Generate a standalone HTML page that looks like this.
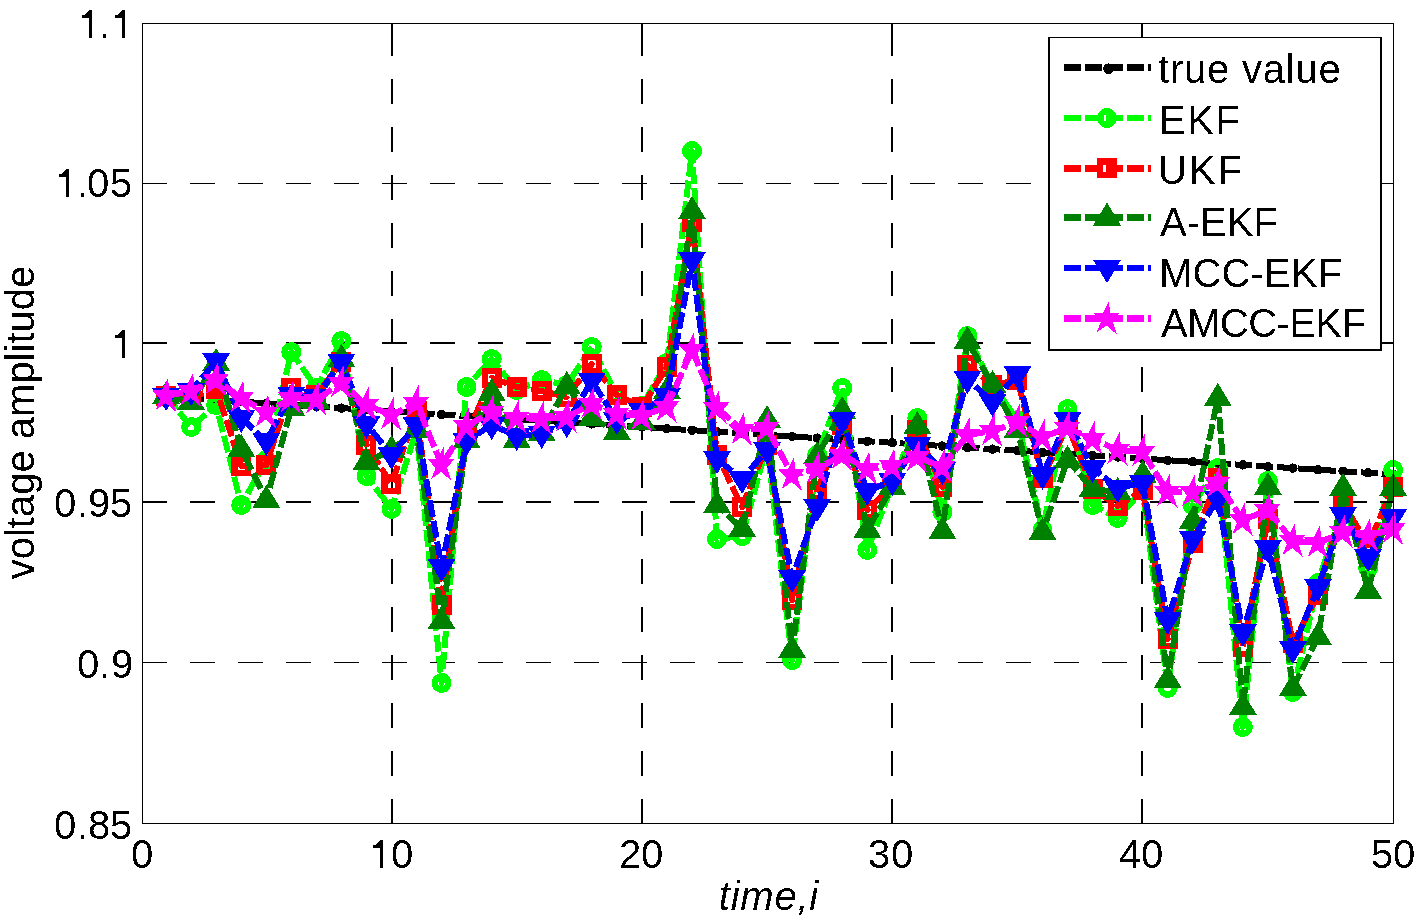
<!DOCTYPE html>
<html><head><meta charset="utf-8"><style>
html,body{margin:0;padding:0;background:#fff;}
svg{display:block;}
text{font-family:"Liberation Sans",sans-serif;fill:#000;}
</style></head><body>
<svg width="1421" height="924" viewBox="0 0 1421 924" shape-rendering="crispEdges">
<rect width="1421" height="924" fill="#fff"/>
<defs><filter id="crisp" x="0" y="0" width="1421" height="924" filterUnits="userSpaceOnUse"><feComponentTransfer><feFuncA type="discrete" tableValues="0 1"/></feComponentTransfer></filter></defs>
<line x1="392" y1="824" x2="392" y2="23" stroke="#000" stroke-width="2" stroke-dasharray="25 23"/>
<line x1="642" y1="824" x2="642" y2="23" stroke="#000" stroke-width="2" stroke-dasharray="25 23"/>
<line x1="892" y1="824" x2="892" y2="23" stroke="#000" stroke-width="2" stroke-dasharray="25 23"/>
<line x1="1142" y1="824" x2="1142" y2="23" stroke="#000" stroke-width="2" stroke-dasharray="25 23"/>
<line x1="142" y1="183.5" x2="1394" y2="183.5" stroke="#000" stroke-width="1" stroke-dasharray="25 23"/>
<line x1="142" y1="343" x2="1394" y2="343" stroke="#000" stroke-width="2" stroke-dasharray="25 23"/>
<line x1="142" y1="502" x2="1394" y2="502" stroke="#000" stroke-width="2" stroke-dasharray="25 23"/>
<line x1="142" y1="662.5" x2="1394" y2="662.5" stroke="#000" stroke-width="1" stroke-dasharray="25 23"/>
<polyline points="166.1,397.0 191.2,398.6 216.2,400.2 241.3,401.7 266.3,403.3 291.3,404.9 316.4,406.5 341.4,408.1 366.5,409.6 391.5,411.2 416.5,412.8 441.6,414.4 466.6,416.0 491.7,417.5 516.7,419.1 541.7,420.7 566.8,422.3 591.8,423.9 616.9,425.4 641.9,427.0 666.9,428.6 692.0,430.2 717.0,431.8 742.1,433.3 767.1,434.9 792.1,436.5 817.2,438.1 842.2,439.7 867.3,441.2 892.3,442.8 917.3,444.4 942.4,446.0 967.4,447.6 992.5,449.1 1017.5,450.7 1042.5,452.3 1067.6,453.9 1092.6,455.5 1117.7,457.0 1142.7,458.6 1167.7,460.2 1192.8,461.8 1217.8,463.4 1242.9,464.9 1267.9,466.5 1292.9,468.1 1318.0,469.7 1343.0,471.3 1368.1,472.8 1393.1,474.4" fill="none" stroke="#000000" stroke-width="6" stroke-dasharray="17 4" stroke-linejoin="round"/>
<circle cx="166.1" cy="397.0" r="4.7" fill="#000000"/>
<circle cx="191.2" cy="398.6" r="4.7" fill="#000000"/>
<circle cx="216.2" cy="400.2" r="4.7" fill="#000000"/>
<circle cx="241.3" cy="401.7" r="4.7" fill="#000000"/>
<circle cx="266.3" cy="403.3" r="4.7" fill="#000000"/>
<circle cx="291.3" cy="404.9" r="4.7" fill="#000000"/>
<circle cx="316.4" cy="406.5" r="4.7" fill="#000000"/>
<circle cx="341.4" cy="408.1" r="4.7" fill="#000000"/>
<circle cx="366.5" cy="409.6" r="4.7" fill="#000000"/>
<circle cx="391.5" cy="411.2" r="4.7" fill="#000000"/>
<circle cx="416.5" cy="412.8" r="4.7" fill="#000000"/>
<circle cx="441.6" cy="414.4" r="4.7" fill="#000000"/>
<circle cx="466.6" cy="416.0" r="4.7" fill="#000000"/>
<circle cx="491.7" cy="417.5" r="4.7" fill="#000000"/>
<circle cx="516.7" cy="419.1" r="4.7" fill="#000000"/>
<circle cx="541.7" cy="420.7" r="4.7" fill="#000000"/>
<circle cx="566.8" cy="422.3" r="4.7" fill="#000000"/>
<circle cx="591.8" cy="423.9" r="4.7" fill="#000000"/>
<circle cx="616.9" cy="425.4" r="4.7" fill="#000000"/>
<circle cx="641.9" cy="427.0" r="4.7" fill="#000000"/>
<circle cx="666.9" cy="428.6" r="4.7" fill="#000000"/>
<circle cx="692.0" cy="430.2" r="4.7" fill="#000000"/>
<circle cx="717.0" cy="431.8" r="4.7" fill="#000000"/>
<circle cx="742.1" cy="433.3" r="4.7" fill="#000000"/>
<circle cx="767.1" cy="434.9" r="4.7" fill="#000000"/>
<circle cx="792.1" cy="436.5" r="4.7" fill="#000000"/>
<circle cx="817.2" cy="438.1" r="4.7" fill="#000000"/>
<circle cx="842.2" cy="439.7" r="4.7" fill="#000000"/>
<circle cx="867.3" cy="441.2" r="4.7" fill="#000000"/>
<circle cx="892.3" cy="442.8" r="4.7" fill="#000000"/>
<circle cx="917.3" cy="444.4" r="4.7" fill="#000000"/>
<circle cx="942.4" cy="446.0" r="4.7" fill="#000000"/>
<circle cx="967.4" cy="447.6" r="4.7" fill="#000000"/>
<circle cx="992.5" cy="449.1" r="4.7" fill="#000000"/>
<circle cx="1017.5" cy="450.7" r="4.7" fill="#000000"/>
<circle cx="1042.5" cy="452.3" r="4.7" fill="#000000"/>
<circle cx="1067.6" cy="453.9" r="4.7" fill="#000000"/>
<circle cx="1092.6" cy="455.5" r="4.7" fill="#000000"/>
<circle cx="1117.7" cy="457.0" r="4.7" fill="#000000"/>
<circle cx="1142.7" cy="458.6" r="4.7" fill="#000000"/>
<circle cx="1167.7" cy="460.2" r="4.7" fill="#000000"/>
<circle cx="1192.8" cy="461.8" r="4.7" fill="#000000"/>
<circle cx="1217.8" cy="463.4" r="4.7" fill="#000000"/>
<circle cx="1242.9" cy="464.9" r="4.7" fill="#000000"/>
<circle cx="1267.9" cy="466.5" r="4.7" fill="#000000"/>
<circle cx="1292.9" cy="468.1" r="4.7" fill="#000000"/>
<circle cx="1318.0" cy="469.7" r="4.7" fill="#000000"/>
<circle cx="1343.0" cy="471.3" r="4.7" fill="#000000"/>
<circle cx="1368.1" cy="472.8" r="4.7" fill="#000000"/>
<circle cx="1393.1" cy="474.4" r="4.7" fill="#000000"/>
<polyline points="166.1,396.0 191.2,427.0 216.2,405.0 241.3,505.0 266.3,460.0 291.3,352.0 316.4,388.0 341.4,341.0 366.5,476.0 391.5,509.0 416.5,430.0 441.6,683.0 466.6,387.0 491.7,359.0 516.7,390.0 541.7,380.0 566.8,385.0 591.8,347.0 616.9,395.0 641.9,406.0 666.9,363.0 692.0,151.0 717.0,539.0 742.1,536.0 767.1,445.0 792.1,660.0 817.2,455.0 842.2,388.0 867.3,550.0 892.3,485.0 917.3,418.0 942.4,512.0 967.4,336.0 992.5,385.0 1017.5,420.0 1042.5,530.0 1067.6,409.0 1092.6,505.0 1117.7,518.0 1142.7,490.0 1167.7,688.0 1192.8,505.0 1217.8,468.0 1242.9,727.0 1267.9,481.0 1292.9,692.0 1318.0,583.0 1343.0,505.0 1368.1,568.0 1393.1,470.0" fill="none" stroke="#00ff00" stroke-width="6" stroke-dasharray="17 4" stroke-linejoin="round"/>
<circle cx="166.1" cy="396.0" r="6.75" fill="none" stroke="#00ff00" stroke-width="6.5"/>
<circle cx="191.2" cy="427.0" r="6.75" fill="none" stroke="#00ff00" stroke-width="6.5"/>
<circle cx="216.2" cy="405.0" r="6.75" fill="none" stroke="#00ff00" stroke-width="6.5"/>
<circle cx="241.3" cy="505.0" r="6.75" fill="none" stroke="#00ff00" stroke-width="6.5"/>
<circle cx="266.3" cy="460.0" r="6.75" fill="none" stroke="#00ff00" stroke-width="6.5"/>
<circle cx="291.3" cy="352.0" r="6.75" fill="none" stroke="#00ff00" stroke-width="6.5"/>
<circle cx="316.4" cy="388.0" r="6.75" fill="none" stroke="#00ff00" stroke-width="6.5"/>
<circle cx="341.4" cy="341.0" r="6.75" fill="none" stroke="#00ff00" stroke-width="6.5"/>
<circle cx="366.5" cy="476.0" r="6.75" fill="none" stroke="#00ff00" stroke-width="6.5"/>
<circle cx="391.5" cy="509.0" r="6.75" fill="none" stroke="#00ff00" stroke-width="6.5"/>
<circle cx="416.5" cy="430.0" r="6.75" fill="none" stroke="#00ff00" stroke-width="6.5"/>
<circle cx="441.6" cy="683.0" r="6.75" fill="none" stroke="#00ff00" stroke-width="6.5"/>
<circle cx="466.6" cy="387.0" r="6.75" fill="none" stroke="#00ff00" stroke-width="6.5"/>
<circle cx="491.7" cy="359.0" r="6.75" fill="none" stroke="#00ff00" stroke-width="6.5"/>
<circle cx="516.7" cy="390.0" r="6.75" fill="none" stroke="#00ff00" stroke-width="6.5"/>
<circle cx="541.7" cy="380.0" r="6.75" fill="none" stroke="#00ff00" stroke-width="6.5"/>
<circle cx="566.8" cy="385.0" r="6.75" fill="none" stroke="#00ff00" stroke-width="6.5"/>
<circle cx="591.8" cy="347.0" r="6.75" fill="none" stroke="#00ff00" stroke-width="6.5"/>
<circle cx="616.9" cy="395.0" r="6.75" fill="none" stroke="#00ff00" stroke-width="6.5"/>
<circle cx="641.9" cy="406.0" r="6.75" fill="none" stroke="#00ff00" stroke-width="6.5"/>
<circle cx="666.9" cy="363.0" r="6.75" fill="none" stroke="#00ff00" stroke-width="6.5"/>
<circle cx="692.0" cy="151.0" r="6.75" fill="none" stroke="#00ff00" stroke-width="6.5"/>
<circle cx="717.0" cy="539.0" r="6.75" fill="none" stroke="#00ff00" stroke-width="6.5"/>
<circle cx="742.1" cy="536.0" r="6.75" fill="none" stroke="#00ff00" stroke-width="6.5"/>
<circle cx="767.1" cy="445.0" r="6.75" fill="none" stroke="#00ff00" stroke-width="6.5"/>
<circle cx="792.1" cy="660.0" r="6.75" fill="none" stroke="#00ff00" stroke-width="6.5"/>
<circle cx="817.2" cy="455.0" r="6.75" fill="none" stroke="#00ff00" stroke-width="6.5"/>
<circle cx="842.2" cy="388.0" r="6.75" fill="none" stroke="#00ff00" stroke-width="6.5"/>
<circle cx="867.3" cy="550.0" r="6.75" fill="none" stroke="#00ff00" stroke-width="6.5"/>
<circle cx="892.3" cy="485.0" r="6.75" fill="none" stroke="#00ff00" stroke-width="6.5"/>
<circle cx="917.3" cy="418.0" r="6.75" fill="none" stroke="#00ff00" stroke-width="6.5"/>
<circle cx="942.4" cy="512.0" r="6.75" fill="none" stroke="#00ff00" stroke-width="6.5"/>
<circle cx="967.4" cy="336.0" r="6.75" fill="none" stroke="#00ff00" stroke-width="6.5"/>
<circle cx="992.5" cy="385.0" r="6.75" fill="none" stroke="#00ff00" stroke-width="6.5"/>
<circle cx="1017.5" cy="420.0" r="6.75" fill="none" stroke="#00ff00" stroke-width="6.5"/>
<circle cx="1042.5" cy="530.0" r="6.75" fill="none" stroke="#00ff00" stroke-width="6.5"/>
<circle cx="1067.6" cy="409.0" r="6.75" fill="none" stroke="#00ff00" stroke-width="6.5"/>
<circle cx="1092.6" cy="505.0" r="6.75" fill="none" stroke="#00ff00" stroke-width="6.5"/>
<circle cx="1117.7" cy="518.0" r="6.75" fill="none" stroke="#00ff00" stroke-width="6.5"/>
<circle cx="1142.7" cy="490.0" r="6.75" fill="none" stroke="#00ff00" stroke-width="6.5"/>
<circle cx="1167.7" cy="688.0" r="6.75" fill="none" stroke="#00ff00" stroke-width="6.5"/>
<circle cx="1192.8" cy="505.0" r="6.75" fill="none" stroke="#00ff00" stroke-width="6.5"/>
<circle cx="1217.8" cy="468.0" r="6.75" fill="none" stroke="#00ff00" stroke-width="6.5"/>
<circle cx="1242.9" cy="727.0" r="6.75" fill="none" stroke="#00ff00" stroke-width="6.5"/>
<circle cx="1267.9" cy="481.0" r="6.75" fill="none" stroke="#00ff00" stroke-width="6.5"/>
<circle cx="1292.9" cy="692.0" r="6.75" fill="none" stroke="#00ff00" stroke-width="6.5"/>
<circle cx="1318.0" cy="583.0" r="6.75" fill="none" stroke="#00ff00" stroke-width="6.5"/>
<circle cx="1343.0" cy="505.0" r="6.75" fill="none" stroke="#00ff00" stroke-width="6.5"/>
<circle cx="1368.1" cy="568.0" r="6.75" fill="none" stroke="#00ff00" stroke-width="6.5"/>
<circle cx="1393.1" cy="470.0" r="6.75" fill="none" stroke="#00ff00" stroke-width="6.5"/>
<polyline points="166.1,396.0 191.2,397.0 216.2,389.0 241.3,466.0 266.3,465.0 291.3,388.0 316.4,395.0 341.4,362.0 366.5,445.0 391.5,484.0 416.5,411.0 441.6,605.0 466.6,435.0 491.7,378.0 516.7,387.0 541.7,391.0 566.8,397.0 591.8,364.0 616.9,395.0 641.9,407.0 666.9,367.0 692.0,222.0 717.0,455.0 742.1,507.0 767.1,445.0 792.1,600.0 817.2,491.0 842.2,425.0 867.3,510.0 892.3,485.0 917.3,430.0 942.4,487.0 967.4,365.0 992.5,385.0 1017.5,380.0 1042.5,478.0 1067.6,425.0 1092.6,489.0 1117.7,506.0 1142.7,490.0 1167.7,639.0 1192.8,543.0 1217.8,478.0 1242.9,647.0 1267.9,519.0 1292.9,643.0 1318.0,595.0 1343.0,503.0 1368.1,545.0 1393.1,487.0" fill="none" stroke="#ff0000" stroke-width="6" stroke-dasharray="17 4" stroke-linejoin="round"/>
<rect x="159.26" y="389.12" width="13.75" height="13.75" fill="none" stroke="#ff0000" stroke-width="6.25"/>
<rect x="184.31" y="390.12" width="13.75" height="13.75" fill="none" stroke="#ff0000" stroke-width="6.25"/>
<rect x="209.34" y="382.12" width="13.75" height="13.75" fill="none" stroke="#ff0000" stroke-width="6.25"/>
<rect x="234.38" y="459.12" width="13.75" height="13.75" fill="none" stroke="#ff0000" stroke-width="6.25"/>
<rect x="259.42" y="458.12" width="13.75" height="13.75" fill="none" stroke="#ff0000" stroke-width="6.25"/>
<rect x="284.47" y="381.12" width="13.75" height="13.75" fill="none" stroke="#ff0000" stroke-width="6.25"/>
<rect x="309.50" y="388.12" width="13.75" height="13.75" fill="none" stroke="#ff0000" stroke-width="6.25"/>
<rect x="334.54" y="355.12" width="13.75" height="13.75" fill="none" stroke="#ff0000" stroke-width="6.25"/>
<rect x="359.58" y="438.12" width="13.75" height="13.75" fill="none" stroke="#ff0000" stroke-width="6.25"/>
<rect x="384.62" y="477.12" width="13.75" height="13.75" fill="none" stroke="#ff0000" stroke-width="6.25"/>
<rect x="409.66" y="404.12" width="13.75" height="13.75" fill="none" stroke="#ff0000" stroke-width="6.25"/>
<rect x="434.71" y="598.12" width="13.75" height="13.75" fill="none" stroke="#ff0000" stroke-width="6.25"/>
<rect x="459.75" y="428.12" width="13.75" height="13.75" fill="none" stroke="#ff0000" stroke-width="6.25"/>
<rect x="484.78" y="371.12" width="13.75" height="13.75" fill="none" stroke="#ff0000" stroke-width="6.25"/>
<rect x="509.82" y="380.12" width="13.75" height="13.75" fill="none" stroke="#ff0000" stroke-width="6.25"/>
<rect x="534.87" y="384.12" width="13.75" height="13.75" fill="none" stroke="#ff0000" stroke-width="6.25"/>
<rect x="559.90" y="390.12" width="13.75" height="13.75" fill="none" stroke="#ff0000" stroke-width="6.25"/>
<rect x="584.94" y="357.12" width="13.75" height="13.75" fill="none" stroke="#ff0000" stroke-width="6.25"/>
<rect x="609.99" y="388.12" width="13.75" height="13.75" fill="none" stroke="#ff0000" stroke-width="6.25"/>
<rect x="635.02" y="400.12" width="13.75" height="13.75" fill="none" stroke="#ff0000" stroke-width="6.25"/>
<rect x="660.07" y="360.12" width="13.75" height="13.75" fill="none" stroke="#ff0000" stroke-width="6.25"/>
<rect x="685.11" y="215.12" width="13.75" height="13.75" fill="none" stroke="#ff0000" stroke-width="6.25"/>
<rect x="710.14" y="448.12" width="13.75" height="13.75" fill="none" stroke="#ff0000" stroke-width="6.25"/>
<rect x="735.19" y="500.12" width="13.75" height="13.75" fill="none" stroke="#ff0000" stroke-width="6.25"/>
<rect x="760.23" y="438.12" width="13.75" height="13.75" fill="none" stroke="#ff0000" stroke-width="6.25"/>
<rect x="785.26" y="593.12" width="13.75" height="13.75" fill="none" stroke="#ff0000" stroke-width="6.25"/>
<rect x="810.30" y="484.12" width="13.75" height="13.75" fill="none" stroke="#ff0000" stroke-width="6.25"/>
<rect x="835.35" y="418.12" width="13.75" height="13.75" fill="none" stroke="#ff0000" stroke-width="6.25"/>
<rect x="860.38" y="503.12" width="13.75" height="13.75" fill="none" stroke="#ff0000" stroke-width="6.25"/>
<rect x="885.42" y="478.12" width="13.75" height="13.75" fill="none" stroke="#ff0000" stroke-width="6.25"/>
<rect x="910.47" y="423.12" width="13.75" height="13.75" fill="none" stroke="#ff0000" stroke-width="6.25"/>
<rect x="935.50" y="480.12" width="13.75" height="13.75" fill="none" stroke="#ff0000" stroke-width="6.25"/>
<rect x="960.54" y="358.12" width="13.75" height="13.75" fill="none" stroke="#ff0000" stroke-width="6.25"/>
<rect x="985.59" y="378.12" width="13.75" height="13.75" fill="none" stroke="#ff0000" stroke-width="6.25"/>
<rect x="1010.62" y="373.12" width="13.75" height="13.75" fill="none" stroke="#ff0000" stroke-width="6.25"/>
<rect x="1035.66" y="471.12" width="13.75" height="13.75" fill="none" stroke="#ff0000" stroke-width="6.25"/>
<rect x="1060.70" y="418.12" width="13.75" height="13.75" fill="none" stroke="#ff0000" stroke-width="6.25"/>
<rect x="1085.74" y="482.12" width="13.75" height="13.75" fill="none" stroke="#ff0000" stroke-width="6.25"/>
<rect x="1110.78" y="499.12" width="13.75" height="13.75" fill="none" stroke="#ff0000" stroke-width="6.25"/>
<rect x="1135.82" y="483.12" width="13.75" height="13.75" fill="none" stroke="#ff0000" stroke-width="6.25"/>
<rect x="1160.86" y="632.12" width="13.75" height="13.75" fill="none" stroke="#ff0000" stroke-width="6.25"/>
<rect x="1185.90" y="536.12" width="13.75" height="13.75" fill="none" stroke="#ff0000" stroke-width="6.25"/>
<rect x="1210.94" y="471.12" width="13.75" height="13.75" fill="none" stroke="#ff0000" stroke-width="6.25"/>
<rect x="1235.98" y="640.12" width="13.75" height="13.75" fill="none" stroke="#ff0000" stroke-width="6.25"/>
<rect x="1261.02" y="512.12" width="13.75" height="13.75" fill="none" stroke="#ff0000" stroke-width="6.25"/>
<rect x="1286.06" y="636.12" width="13.75" height="13.75" fill="none" stroke="#ff0000" stroke-width="6.25"/>
<rect x="1311.10" y="588.12" width="13.75" height="13.75" fill="none" stroke="#ff0000" stroke-width="6.25"/>
<rect x="1336.14" y="496.12" width="13.75" height="13.75" fill="none" stroke="#ff0000" stroke-width="6.25"/>
<rect x="1361.18" y="538.12" width="13.75" height="13.75" fill="none" stroke="#ff0000" stroke-width="6.25"/>
<rect x="1386.22" y="480.12" width="13.75" height="13.75" fill="none" stroke="#ff0000" stroke-width="6.25"/>
<polyline points="166.1,396.0 191.2,402.0 216.2,363.0 241.3,449.0 266.3,500.0 291.3,408.0 316.4,401.0 341.4,359.0 366.5,462.0 391.5,450.0 416.5,430.0 441.6,621.0 466.6,440.0 491.7,393.0 516.7,440.0 541.7,433.0 566.8,386.0 591.8,418.0 616.9,432.0 641.9,422.0 666.9,391.0 692.0,211.0 717.0,505.0 742.1,529.0 767.1,420.0 792.1,650.0 817.2,456.0 842.2,411.0 867.3,530.0 892.3,487.0 917.3,426.0 942.4,531.0 967.4,341.0 992.5,385.0 1017.5,430.0 1042.5,532.0 1067.6,460.0 1092.6,489.0 1117.7,492.0 1142.7,475.0 1167.7,680.0 1192.8,521.0 1217.8,398.0 1242.9,707.0 1267.9,487.0 1292.9,688.0 1318.0,637.0 1343.0,488.0 1368.1,591.0 1393.1,488.0" fill="none" stroke="#008000" stroke-width="6" stroke-dasharray="17 4" stroke-linejoin="round"/>
<path d="M166.1,381.0L180.1,404.0L152.1,404.0Z" fill="#008000"/>
<path d="M191.2,387.0L205.2,410.0L177.2,410.0Z" fill="#008000"/>
<path d="M216.2,348.0L230.2,371.0L202.2,371.0Z" fill="#008000"/>
<path d="M241.3,434.0L255.3,457.0L227.3,457.0Z" fill="#008000"/>
<path d="M266.3,485.0L280.3,508.0L252.3,508.0Z" fill="#008000"/>
<path d="M291.3,393.0L305.3,416.0L277.3,416.0Z" fill="#008000"/>
<path d="M316.4,386.0L330.4,409.0L302.4,409.0Z" fill="#008000"/>
<path d="M341.4,344.0L355.4,367.0L327.4,367.0Z" fill="#008000"/>
<path d="M366.5,447.0L380.5,470.0L352.5,470.0Z" fill="#008000"/>
<path d="M391.5,435.0L405.5,458.0L377.5,458.0Z" fill="#008000"/>
<path d="M416.5,415.0L430.5,438.0L402.5,438.0Z" fill="#008000"/>
<path d="M441.6,606.0L455.6,629.0L427.6,629.0Z" fill="#008000"/>
<path d="M466.6,425.0L480.6,448.0L452.6,448.0Z" fill="#008000"/>
<path d="M491.7,378.0L505.7,401.0L477.7,401.0Z" fill="#008000"/>
<path d="M516.7,425.0L530.7,448.0L502.7,448.0Z" fill="#008000"/>
<path d="M541.7,418.0L555.7,441.0L527.7,441.0Z" fill="#008000"/>
<path d="M566.8,371.0L580.8,394.0L552.8,394.0Z" fill="#008000"/>
<path d="M591.8,403.0L605.8,426.0L577.8,426.0Z" fill="#008000"/>
<path d="M616.9,417.0L630.9,440.0L602.9,440.0Z" fill="#008000"/>
<path d="M641.9,407.0L655.9,430.0L627.9,430.0Z" fill="#008000"/>
<path d="M666.9,376.0L680.9,399.0L652.9,399.0Z" fill="#008000"/>
<path d="M692.0,196.0L706.0,219.0L678.0,219.0Z" fill="#008000"/>
<path d="M717.0,490.0L731.0,513.0L703.0,513.0Z" fill="#008000"/>
<path d="M742.1,514.0L756.1,537.0L728.1,537.0Z" fill="#008000"/>
<path d="M767.1,405.0L781.1,428.0L753.1,428.0Z" fill="#008000"/>
<path d="M792.1,635.0L806.1,658.0L778.1,658.0Z" fill="#008000"/>
<path d="M817.2,441.0L831.2,464.0L803.2,464.0Z" fill="#008000"/>
<path d="M842.2,396.0L856.2,419.0L828.2,419.0Z" fill="#008000"/>
<path d="M867.3,515.0L881.3,538.0L853.3,538.0Z" fill="#008000"/>
<path d="M892.3,472.0L906.3,495.0L878.3,495.0Z" fill="#008000"/>
<path d="M917.3,411.0L931.3,434.0L903.3,434.0Z" fill="#008000"/>
<path d="M942.4,516.0L956.4,539.0L928.4,539.0Z" fill="#008000"/>
<path d="M967.4,326.0L981.4,349.0L953.4,349.0Z" fill="#008000"/>
<path d="M992.5,370.0L1006.5,393.0L978.5,393.0Z" fill="#008000"/>
<path d="M1017.5,415.0L1031.5,438.0L1003.5,438.0Z" fill="#008000"/>
<path d="M1042.5,517.0L1056.5,540.0L1028.5,540.0Z" fill="#008000"/>
<path d="M1067.6,445.0L1081.6,468.0L1053.6,468.0Z" fill="#008000"/>
<path d="M1092.6,474.0L1106.6,497.0L1078.6,497.0Z" fill="#008000"/>
<path d="M1117.7,477.0L1131.7,500.0L1103.7,500.0Z" fill="#008000"/>
<path d="M1142.7,460.0L1156.7,483.0L1128.7,483.0Z" fill="#008000"/>
<path d="M1167.7,665.0L1181.7,688.0L1153.7,688.0Z" fill="#008000"/>
<path d="M1192.8,506.0L1206.8,529.0L1178.8,529.0Z" fill="#008000"/>
<path d="M1217.8,383.0L1231.8,406.0L1203.8,406.0Z" fill="#008000"/>
<path d="M1242.9,692.0L1256.9,715.0L1228.9,715.0Z" fill="#008000"/>
<path d="M1267.9,472.0L1281.9,495.0L1253.9,495.0Z" fill="#008000"/>
<path d="M1292.9,673.0L1306.9,696.0L1278.9,696.0Z" fill="#008000"/>
<path d="M1318.0,622.0L1332.0,645.0L1304.0,645.0Z" fill="#008000"/>
<path d="M1343.0,473.0L1357.0,496.0L1329.0,496.0Z" fill="#008000"/>
<path d="M1368.1,576.0L1382.1,599.0L1354.1,599.0Z" fill="#008000"/>
<path d="M1393.1,473.0L1407.1,496.0L1379.1,496.0Z" fill="#008000"/>
<polyline points="166.1,396.0 191.2,391.0 216.2,361.0 241.3,418.0 266.3,441.0 291.3,394.5 316.4,397.0 341.4,362.0 366.5,424.0 391.5,455.0 416.5,425.0 441.6,567.0 466.6,441.0 491.7,425.0 516.7,436.0 541.7,434.0 566.8,423.0 591.8,381.0 616.9,420.0 641.9,411.0 666.9,396.0 692.0,260.0 717.0,459.0 742.1,479.0 767.1,450.0 792.1,578.0 817.2,507.0 842.2,420.0 867.3,491.0 892.3,481.0 917.3,445.0 942.4,470.0 967.4,379.0 992.5,402.0 1017.5,374.0 1042.5,475.0 1067.6,420.0 1092.6,468.0 1117.7,488.0 1142.7,483.0 1167.7,620.0 1192.8,539.0 1217.8,499.0 1242.9,632.0 1267.9,548.0 1292.9,649.0 1318.0,587.0 1343.0,515.0 1368.1,557.0 1393.1,517.0" fill="none" stroke="#0000ff" stroke-width="6" stroke-dasharray="17 4" stroke-linejoin="round"/>
<path d="M166.1,411.0L180.1,388.0L152.1,388.0Z" fill="#0000ff"/>
<path d="M191.2,406.0L205.2,383.0L177.2,383.0Z" fill="#0000ff"/>
<path d="M216.2,376.0L230.2,353.0L202.2,353.0Z" fill="#0000ff"/>
<path d="M241.3,433.0L255.3,410.0L227.3,410.0Z" fill="#0000ff"/>
<path d="M266.3,456.0L280.3,433.0L252.3,433.0Z" fill="#0000ff"/>
<path d="M291.3,409.5L305.3,386.5L277.3,386.5Z" fill="#0000ff"/>
<path d="M316.4,412.0L330.4,389.0L302.4,389.0Z" fill="#0000ff"/>
<path d="M341.4,377.0L355.4,354.0L327.4,354.0Z" fill="#0000ff"/>
<path d="M366.5,439.0L380.5,416.0L352.5,416.0Z" fill="#0000ff"/>
<path d="M391.5,470.0L405.5,447.0L377.5,447.0Z" fill="#0000ff"/>
<path d="M416.5,440.0L430.5,417.0L402.5,417.0Z" fill="#0000ff"/>
<path d="M441.6,582.0L455.6,559.0L427.6,559.0Z" fill="#0000ff"/>
<path d="M466.6,456.0L480.6,433.0L452.6,433.0Z" fill="#0000ff"/>
<path d="M491.7,440.0L505.7,417.0L477.7,417.0Z" fill="#0000ff"/>
<path d="M516.7,451.0L530.7,428.0L502.7,428.0Z" fill="#0000ff"/>
<path d="M541.7,449.0L555.7,426.0L527.7,426.0Z" fill="#0000ff"/>
<path d="M566.8,438.0L580.8,415.0L552.8,415.0Z" fill="#0000ff"/>
<path d="M591.8,396.0L605.8,373.0L577.8,373.0Z" fill="#0000ff"/>
<path d="M616.9,435.0L630.9,412.0L602.9,412.0Z" fill="#0000ff"/>
<path d="M641.9,426.0L655.9,403.0L627.9,403.0Z" fill="#0000ff"/>
<path d="M666.9,411.0L680.9,388.0L652.9,388.0Z" fill="#0000ff"/>
<path d="M692.0,275.0L706.0,252.0L678.0,252.0Z" fill="#0000ff"/>
<path d="M717.0,474.0L731.0,451.0L703.0,451.0Z" fill="#0000ff"/>
<path d="M742.1,494.0L756.1,471.0L728.1,471.0Z" fill="#0000ff"/>
<path d="M767.1,465.0L781.1,442.0L753.1,442.0Z" fill="#0000ff"/>
<path d="M792.1,593.0L806.1,570.0L778.1,570.0Z" fill="#0000ff"/>
<path d="M817.2,522.0L831.2,499.0L803.2,499.0Z" fill="#0000ff"/>
<path d="M842.2,435.0L856.2,412.0L828.2,412.0Z" fill="#0000ff"/>
<path d="M867.3,506.0L881.3,483.0L853.3,483.0Z" fill="#0000ff"/>
<path d="M892.3,496.0L906.3,473.0L878.3,473.0Z" fill="#0000ff"/>
<path d="M917.3,460.0L931.3,437.0L903.3,437.0Z" fill="#0000ff"/>
<path d="M942.4,485.0L956.4,462.0L928.4,462.0Z" fill="#0000ff"/>
<path d="M967.4,394.0L981.4,371.0L953.4,371.0Z" fill="#0000ff"/>
<path d="M992.5,417.0L1006.5,394.0L978.5,394.0Z" fill="#0000ff"/>
<path d="M1017.5,389.0L1031.5,366.0L1003.5,366.0Z" fill="#0000ff"/>
<path d="M1042.5,490.0L1056.5,467.0L1028.5,467.0Z" fill="#0000ff"/>
<path d="M1067.6,435.0L1081.6,412.0L1053.6,412.0Z" fill="#0000ff"/>
<path d="M1092.6,483.0L1106.6,460.0L1078.6,460.0Z" fill="#0000ff"/>
<path d="M1117.7,503.0L1131.7,480.0L1103.7,480.0Z" fill="#0000ff"/>
<path d="M1142.7,498.0L1156.7,475.0L1128.7,475.0Z" fill="#0000ff"/>
<path d="M1167.7,635.0L1181.7,612.0L1153.7,612.0Z" fill="#0000ff"/>
<path d="M1192.8,554.0L1206.8,531.0L1178.8,531.0Z" fill="#0000ff"/>
<path d="M1217.8,514.0L1231.8,491.0L1203.8,491.0Z" fill="#0000ff"/>
<path d="M1242.9,647.0L1256.9,624.0L1228.9,624.0Z" fill="#0000ff"/>
<path d="M1267.9,563.0L1281.9,540.0L1253.9,540.0Z" fill="#0000ff"/>
<path d="M1292.9,664.0L1306.9,641.0L1278.9,641.0Z" fill="#0000ff"/>
<path d="M1318.0,602.0L1332.0,579.0L1304.0,579.0Z" fill="#0000ff"/>
<path d="M1343.0,530.0L1357.0,507.0L1329.0,507.0Z" fill="#0000ff"/>
<path d="M1368.1,572.0L1382.1,549.0L1354.1,549.0Z" fill="#0000ff"/>
<path d="M1393.1,532.0L1407.1,509.0L1379.1,509.0Z" fill="#0000ff"/>
<polyline points="166.1,396.0 191.2,391.0 216.2,380.0 241.3,398.0 266.3,412.5 291.3,398.0 316.4,399.5 341.4,383.0 366.5,405.0 391.5,415.0 416.5,403.0 441.6,465.0 466.6,426.0 491.7,412.0 516.7,418.0 541.7,419.0 566.8,417.0 591.8,404.0 616.9,414.0 641.9,416.0 666.9,407.0 692.0,350.0 717.0,408.0 742.1,430.0 767.1,428.0 792.1,475.0 817.2,469.0 842.2,455.0 867.3,469.0 892.3,466.0 917.3,457.0 942.4,467.0 967.4,435.0 992.5,431.0 1017.5,422.0 1042.5,437.0 1067.6,428.0 1092.6,439.0 1117.7,450.0 1142.7,452.0 1167.7,492.0 1192.8,492.0 1217.8,483.0 1242.9,520.0 1267.9,510.0 1292.9,541.0 1318.0,543.0 1343.0,532.0 1368.1,536.0 1393.1,529.0" fill="none" stroke="#ff00ff" stroke-width="6" stroke-dasharray="17 4" stroke-linejoin="round"/>
<path d="M168.1,378.0L169.1,390.0L178.6,390.0L171.6,399.0L176.1,412.0L165.6,403.0L155.6,410.0L160.1,399.0L152.1,390.0L162.1,390.0Z" fill="#ff00ff"/>
<path d="M193.2,373.0L194.2,385.0L203.7,385.0L196.7,394.0L201.2,407.0L190.7,398.0L180.7,405.0L185.2,394.0L177.2,385.0L187.2,385.0Z" fill="#ff00ff"/>
<path d="M218.2,362.0L219.2,374.0L228.7,374.0L221.7,383.0L226.2,396.0L215.7,387.0L205.7,394.0L210.2,383.0L202.2,374.0L212.2,374.0Z" fill="#ff00ff"/>
<path d="M243.3,380.0L244.3,392.0L253.8,392.0L246.8,401.0L251.3,414.0L240.8,405.0L230.8,412.0L235.3,401.0L227.3,392.0L237.3,392.0Z" fill="#ff00ff"/>
<path d="M268.3,394.5L269.3,406.5L278.8,406.5L271.8,415.5L276.3,428.5L265.8,419.5L255.8,426.5L260.3,415.5L252.3,406.5L262.3,406.5Z" fill="#ff00ff"/>
<path d="M293.3,380.0L294.3,392.0L303.8,392.0L296.8,401.0L301.3,414.0L290.8,405.0L280.8,412.0L285.3,401.0L277.3,392.0L287.3,392.0Z" fill="#ff00ff"/>
<path d="M318.4,381.5L319.4,393.5L328.9,393.5L321.9,402.5L326.4,415.5L315.9,406.5L305.9,413.5L310.4,402.5L302.4,393.5L312.4,393.5Z" fill="#ff00ff"/>
<path d="M343.4,365.0L344.4,377.0L353.9,377.0L346.9,386.0L351.4,399.0L340.9,390.0L330.9,397.0L335.4,386.0L327.4,377.0L337.4,377.0Z" fill="#ff00ff"/>
<path d="M368.5,387.0L369.5,399.0L379.0,399.0L372.0,408.0L376.5,421.0L366.0,412.0L356.0,419.0L360.5,408.0L352.5,399.0L362.5,399.0Z" fill="#ff00ff"/>
<path d="M393.5,397.0L394.5,409.0L404.0,409.0L397.0,418.0L401.5,431.0L391.0,422.0L381.0,429.0L385.5,418.0L377.5,409.0L387.5,409.0Z" fill="#ff00ff"/>
<path d="M418.5,385.0L419.5,397.0L429.0,397.0L422.0,406.0L426.5,419.0L416.0,410.0L406.0,417.0L410.5,406.0L402.5,397.0L412.5,397.0Z" fill="#ff00ff"/>
<path d="M443.6,447.0L444.6,459.0L454.1,459.0L447.1,468.0L451.6,481.0L441.1,472.0L431.1,479.0L435.6,468.0L427.6,459.0L437.6,459.0Z" fill="#ff00ff"/>
<path d="M468.6,408.0L469.6,420.0L479.1,420.0L472.1,429.0L476.6,442.0L466.1,433.0L456.1,440.0L460.6,429.0L452.6,420.0L462.6,420.0Z" fill="#ff00ff"/>
<path d="M493.7,394.0L494.7,406.0L504.2,406.0L497.2,415.0L501.7,428.0L491.2,419.0L481.2,426.0L485.7,415.0L477.7,406.0L487.7,406.0Z" fill="#ff00ff"/>
<path d="M518.7,400.0L519.7,412.0L529.2,412.0L522.2,421.0L526.7,434.0L516.2,425.0L506.2,432.0L510.7,421.0L502.7,412.0L512.7,412.0Z" fill="#ff00ff"/>
<path d="M543.7,401.0L544.7,413.0L554.2,413.0L547.2,422.0L551.7,435.0L541.2,426.0L531.2,433.0L535.7,422.0L527.7,413.0L537.7,413.0Z" fill="#ff00ff"/>
<path d="M568.8,399.0L569.8,411.0L579.3,411.0L572.3,420.0L576.8,433.0L566.3,424.0L556.3,431.0L560.8,420.0L552.8,411.0L562.8,411.0Z" fill="#ff00ff"/>
<path d="M593.8,386.0L594.8,398.0L604.3,398.0L597.3,407.0L601.8,420.0L591.3,411.0L581.3,418.0L585.8,407.0L577.8,398.0L587.8,398.0Z" fill="#ff00ff"/>
<path d="M618.9,396.0L619.9,408.0L629.4,408.0L622.4,417.0L626.9,430.0L616.4,421.0L606.4,428.0L610.9,417.0L602.9,408.0L612.9,408.0Z" fill="#ff00ff"/>
<path d="M643.9,398.0L644.9,410.0L654.4,410.0L647.4,419.0L651.9,432.0L641.4,423.0L631.4,430.0L635.9,419.0L627.9,410.0L637.9,410.0Z" fill="#ff00ff"/>
<path d="M668.9,389.0L669.9,401.0L679.4,401.0L672.4,410.0L676.9,423.0L666.4,414.0L656.4,421.0L660.9,410.0L652.9,401.0L662.9,401.0Z" fill="#ff00ff"/>
<path d="M694.0,332.0L695.0,344.0L704.5,344.0L697.5,353.0L702.0,366.0L691.5,357.0L681.5,364.0L686.0,353.0L678.0,344.0L688.0,344.0Z" fill="#ff00ff"/>
<path d="M719.0,390.0L720.0,402.0L729.5,402.0L722.5,411.0L727.0,424.0L716.5,415.0L706.5,422.0L711.0,411.0L703.0,402.0L713.0,402.0Z" fill="#ff00ff"/>
<path d="M744.1,412.0L745.1,424.0L754.6,424.0L747.6,433.0L752.1,446.0L741.6,437.0L731.6,444.0L736.1,433.0L728.1,424.0L738.1,424.0Z" fill="#ff00ff"/>
<path d="M769.1,410.0L770.1,422.0L779.6,422.0L772.6,431.0L777.1,444.0L766.6,435.0L756.6,442.0L761.1,431.0L753.1,422.0L763.1,422.0Z" fill="#ff00ff"/>
<path d="M794.1,457.0L795.1,469.0L804.6,469.0L797.6,478.0L802.1,491.0L791.6,482.0L781.6,489.0L786.1,478.0L778.1,469.0L788.1,469.0Z" fill="#ff00ff"/>
<path d="M819.2,451.0L820.2,463.0L829.7,463.0L822.7,472.0L827.2,485.0L816.7,476.0L806.7,483.0L811.2,472.0L803.2,463.0L813.2,463.0Z" fill="#ff00ff"/>
<path d="M844.2,437.0L845.2,449.0L854.7,449.0L847.7,458.0L852.2,471.0L841.7,462.0L831.7,469.0L836.2,458.0L828.2,449.0L838.2,449.0Z" fill="#ff00ff"/>
<path d="M869.3,451.0L870.3,463.0L879.8,463.0L872.8,472.0L877.3,485.0L866.8,476.0L856.8,483.0L861.3,472.0L853.3,463.0L863.3,463.0Z" fill="#ff00ff"/>
<path d="M894.3,448.0L895.3,460.0L904.8,460.0L897.8,469.0L902.3,482.0L891.8,473.0L881.8,480.0L886.3,469.0L878.3,460.0L888.3,460.0Z" fill="#ff00ff"/>
<path d="M919.3,439.0L920.3,451.0L929.8,451.0L922.8,460.0L927.3,473.0L916.8,464.0L906.8,471.0L911.3,460.0L903.3,451.0L913.3,451.0Z" fill="#ff00ff"/>
<path d="M944.4,449.0L945.4,461.0L954.9,461.0L947.9,470.0L952.4,483.0L941.9,474.0L931.9,481.0L936.4,470.0L928.4,461.0L938.4,461.0Z" fill="#ff00ff"/>
<path d="M969.4,417.0L970.4,429.0L979.9,429.0L972.9,438.0L977.4,451.0L966.9,442.0L956.9,449.0L961.4,438.0L953.4,429.0L963.4,429.0Z" fill="#ff00ff"/>
<path d="M994.5,413.0L995.5,425.0L1005.0,425.0L998.0,434.0L1002.5,447.0L992.0,438.0L982.0,445.0L986.5,434.0L978.5,425.0L988.5,425.0Z" fill="#ff00ff"/>
<path d="M1019.5,404.0L1020.5,416.0L1030.0,416.0L1023.0,425.0L1027.5,438.0L1017.0,429.0L1007.0,436.0L1011.5,425.0L1003.5,416.0L1013.5,416.0Z" fill="#ff00ff"/>
<path d="M1044.5,419.0L1045.5,431.0L1055.0,431.0L1048.0,440.0L1052.5,453.0L1042.0,444.0L1032.0,451.0L1036.5,440.0L1028.5,431.0L1038.5,431.0Z" fill="#ff00ff"/>
<path d="M1069.6,410.0L1070.6,422.0L1080.1,422.0L1073.1,431.0L1077.6,444.0L1067.1,435.0L1057.1,442.0L1061.6,431.0L1053.6,422.0L1063.6,422.0Z" fill="#ff00ff"/>
<path d="M1094.6,421.0L1095.6,433.0L1105.1,433.0L1098.1,442.0L1102.6,455.0L1092.1,446.0L1082.1,453.0L1086.6,442.0L1078.6,433.0L1088.6,433.0Z" fill="#ff00ff"/>
<path d="M1119.7,432.0L1120.7,444.0L1130.2,444.0L1123.2,453.0L1127.7,466.0L1117.2,457.0L1107.2,464.0L1111.7,453.0L1103.7,444.0L1113.7,444.0Z" fill="#ff00ff"/>
<path d="M1144.7,434.0L1145.7,446.0L1155.2,446.0L1148.2,455.0L1152.7,468.0L1142.2,459.0L1132.2,466.0L1136.7,455.0L1128.7,446.0L1138.7,446.0Z" fill="#ff00ff"/>
<path d="M1169.7,474.0L1170.7,486.0L1180.2,486.0L1173.2,495.0L1177.7,508.0L1167.2,499.0L1157.2,506.0L1161.7,495.0L1153.7,486.0L1163.7,486.0Z" fill="#ff00ff"/>
<path d="M1194.8,474.0L1195.8,486.0L1205.3,486.0L1198.3,495.0L1202.8,508.0L1192.3,499.0L1182.3,506.0L1186.8,495.0L1178.8,486.0L1188.8,486.0Z" fill="#ff00ff"/>
<path d="M1219.8,465.0L1220.8,477.0L1230.3,477.0L1223.3,486.0L1227.8,499.0L1217.3,490.0L1207.3,497.0L1211.8,486.0L1203.8,477.0L1213.8,477.0Z" fill="#ff00ff"/>
<path d="M1244.9,502.0L1245.9,514.0L1255.4,514.0L1248.4,523.0L1252.9,536.0L1242.4,527.0L1232.4,534.0L1236.9,523.0L1228.9,514.0L1238.9,514.0Z" fill="#ff00ff"/>
<path d="M1269.9,492.0L1270.9,504.0L1280.4,504.0L1273.4,513.0L1277.9,526.0L1267.4,517.0L1257.4,524.0L1261.9,513.0L1253.9,504.0L1263.9,504.0Z" fill="#ff00ff"/>
<path d="M1294.9,523.0L1295.9,535.0L1305.4,535.0L1298.4,544.0L1302.9,557.0L1292.4,548.0L1282.4,555.0L1286.9,544.0L1278.9,535.0L1288.9,535.0Z" fill="#ff00ff"/>
<path d="M1320.0,525.0L1321.0,537.0L1330.5,537.0L1323.5,546.0L1328.0,559.0L1317.5,550.0L1307.5,557.0L1312.0,546.0L1304.0,537.0L1314.0,537.0Z" fill="#ff00ff"/>
<path d="M1345.0,514.0L1346.0,526.0L1355.5,526.0L1348.5,535.0L1353.0,548.0L1342.5,539.0L1332.5,546.0L1337.0,535.0L1329.0,526.0L1339.0,526.0Z" fill="#ff00ff"/>
<path d="M1370.1,518.0L1371.1,530.0L1380.6,530.0L1373.6,539.0L1378.1,552.0L1367.6,543.0L1357.6,550.0L1362.1,539.0L1354.1,530.0L1364.1,530.0Z" fill="#ff00ff"/>
<path d="M1395.1,511.0L1396.1,523.0L1405.6,523.0L1398.6,532.0L1403.1,545.0L1392.6,536.0L1382.6,543.0L1387.1,532.0L1379.1,523.0L1389.1,523.0Z" fill="#ff00ff"/>
<rect x="142.5" y="23.5" width="1251" height="800" fill="none" stroke="#000" stroke-width="1"/>
<line x1="142.5" y1="823" x2="142.5" y2="810" stroke="#000" stroke-width="1"/>
<line x1="142.5" y1="24" x2="142.5" y2="37" stroke="#000" stroke-width="1"/>
<line x1="392" y1="823" x2="392" y2="810" stroke="#000" stroke-width="2"/>
<line x1="392" y1="24" x2="392" y2="37" stroke="#000" stroke-width="2"/>
<line x1="642" y1="823" x2="642" y2="810" stroke="#000" stroke-width="2"/>
<line x1="642" y1="24" x2="642" y2="37" stroke="#000" stroke-width="2"/>
<line x1="892" y1="823" x2="892" y2="810" stroke="#000" stroke-width="2"/>
<line x1="892" y1="24" x2="892" y2="37" stroke="#000" stroke-width="2"/>
<line x1="1142" y1="823" x2="1142" y2="810" stroke="#000" stroke-width="2"/>
<line x1="1142" y1="24" x2="1142" y2="37" stroke="#000" stroke-width="2"/>
<line x1="1393.5" y1="823" x2="1393.5" y2="810" stroke="#000" stroke-width="1"/>
<line x1="1393.5" y1="24" x2="1393.5" y2="37" stroke="#000" stroke-width="1"/>
<line x1="143" y1="823.5" x2="156" y2="823.5" stroke="#000" stroke-width="1"/>
<line x1="1393" y1="823.5" x2="1380" y2="823.5" stroke="#000" stroke-width="1"/>
<line x1="143" y1="662.5" x2="156" y2="662.5" stroke="#000" stroke-width="1"/>
<line x1="1393" y1="662.5" x2="1380" y2="662.5" stroke="#000" stroke-width="1"/>
<line x1="143" y1="502" x2="156" y2="502" stroke="#000" stroke-width="2"/>
<line x1="1393" y1="502" x2="1380" y2="502" stroke="#000" stroke-width="2"/>
<line x1="143" y1="343" x2="156" y2="343" stroke="#000" stroke-width="2"/>
<line x1="1393" y1="343" x2="1380" y2="343" stroke="#000" stroke-width="2"/>
<line x1="143" y1="183.5" x2="156" y2="183.5" stroke="#000" stroke-width="1"/>
<line x1="1393" y1="183.5" x2="1380" y2="183.5" stroke="#000" stroke-width="1"/>
<line x1="143" y1="23.5" x2="156" y2="23.5" stroke="#000" stroke-width="1"/>
<line x1="1393" y1="23.5" x2="1380" y2="23.5" stroke="#000" stroke-width="1"/>
<path d="M89,10H92V38H89V18H82V15H84.5Z" fill="#000"/>
<path d="M122,10H125V38H122V18H115V15H117.5Z" fill="#000"/>
<path d="M66,169H69V197H66V177H59V174H61.5Z" fill="#000"/>
<path d="M122,330H125V358H122V338H115V335H117.5Z" fill="#000"/>
<path d="M380,840H383V868H380V848H373V845H375.5Z" fill="#000"/>
<rect x="1048" y="37" width="334" height="314" fill="#fff"/>
<line x1="1048" y1="37.5" x2="1382" y2="37.5" stroke="#000" stroke-width="1"/>
<line x1="1049" y1="37" x2="1049" y2="351" stroke="#000" stroke-width="2"/>
<line x1="1381" y1="37" x2="1381" y2="351" stroke="#000" stroke-width="2"/>
<line x1="1048" y1="350" x2="1382" y2="350" stroke="#000" stroke-width="2"/>
<line x1="1064" y1="67.5" x2="1151" y2="67.5" stroke="#000000" stroke-width="7" stroke-dasharray="17 4"/>
<circle cx="1108.5" cy="68.7" r="5.3" fill="#000"/>
<line x1="1064" y1="118" x2="1151" y2="118" stroke="#00ff00" stroke-width="6" stroke-dasharray="17 4"/>
<circle cx="1107.0" cy="118.0" r="6.75" fill="none" stroke="#00ff00" stroke-width="6.5"/>
<line x1="1064" y1="168.5" x2="1151" y2="168.5" stroke="#ff0000" stroke-width="7" stroke-dasharray="17 4"/>
<rect x="1100.12" y="161.62" width="13.75" height="13.75" fill="none" stroke="#ff0000" stroke-width="6.25"/>
<line x1="1064" y1="217.5" x2="1151" y2="217.5" stroke="#008000" stroke-width="7" stroke-dasharray="17 4"/>
<path d="M1107.0,202.5L1121.0,225.5L1093.0,225.5Z" fill="#008000"/>
<line x1="1064" y1="268" x2="1151" y2="268" stroke="#0000ff" stroke-width="6" stroke-dasharray="17 4"/>
<path d="M1107.0,283.0L1121.0,260.0L1093.0,260.0Z" fill="#0000ff"/>
<line x1="1064" y1="318.5" x2="1151" y2="318.5" stroke="#ff00ff" stroke-width="7" stroke-dasharray="17 4"/>
<path d="M1109.0,300.5L1110.0,312.5L1119.5,312.5L1112.5,321.5L1117.0,334.5L1106.5,325.5L1096.5,332.5L1101.0,321.5L1093.0,312.5L1103.0,312.5Z" fill="#ff00ff"/>
<g filter="url(#crisp)">
<text x="99" y="38" font-size="40">.</text>
<text x="77" y="197" font-size="40">.</text>
<text x="87" y="197" font-size="40">0</text>
<text x="110" y="197" font-size="40">5</text>
<text x="54" y="517" font-size="40">0</text>
<text x="77" y="517" font-size="40">.</text>
<text x="88" y="517" font-size="40">9</text>
<text x="110" y="517" font-size="40">5</text>
<text x="77" y="678" font-size="40">0</text>
<text x="99" y="678" font-size="40">.</text>
<text x="111" y="678" font-size="40">9</text>
<text x="54" y="839" font-size="40">0</text>
<text x="77" y="839" font-size="40">.</text>
<text x="88" y="839" font-size="40">8</text>
<text x="110" y="839" font-size="40">5</text>
<text x="131" y="868" font-size="40">0</text>
<text x="391" y="868" font-size="40">0</text>
<text x="619" y="868" font-size="40">2</text>
<text x="641" y="868" font-size="40">0</text>
<text x="868" y="868" font-size="40">3</text>
<text x="891" y="868" font-size="40">0</text>
<text x="1119" y="868" font-size="40">4</text>
<text x="1141" y="868" font-size="40">0</text>
<text x="1371" y="868" font-size="40">5</text>
<text x="1393" y="868" font-size="40">0</text>
<text x="768.5" y="910" text-anchor="middle" font-size="40" font-style="italic" textLength="99.5" lengthAdjust="spacing">time,i</text>
<text transform="translate(34,422.5) rotate(-90)" text-anchor="middle" font-size="40">voltage amplitude</text>
<text x="1158" y="83" font-size="40" textLength="182.7" lengthAdjust="spacing">true value</text>
<text x="1159" y="134" font-size="40" textLength="80.8" lengthAdjust="spacing">EKF</text>
<text x="1158" y="184" font-size="40" textLength="84" lengthAdjust="spacing">UKF</text>
<text x="1160" y="236" font-size="40" textLength="117.8" lengthAdjust="spacing">A-EKF</text>
<text x="1159" y="286.5" font-size="40" textLength="183.2" lengthAdjust="spacing">MCC-EKF</text>
<text x="1161" y="337" font-size="40" textLength="204.9" lengthAdjust="spacing">AMCC-EKF</text>
</g>
</svg></body></html>
